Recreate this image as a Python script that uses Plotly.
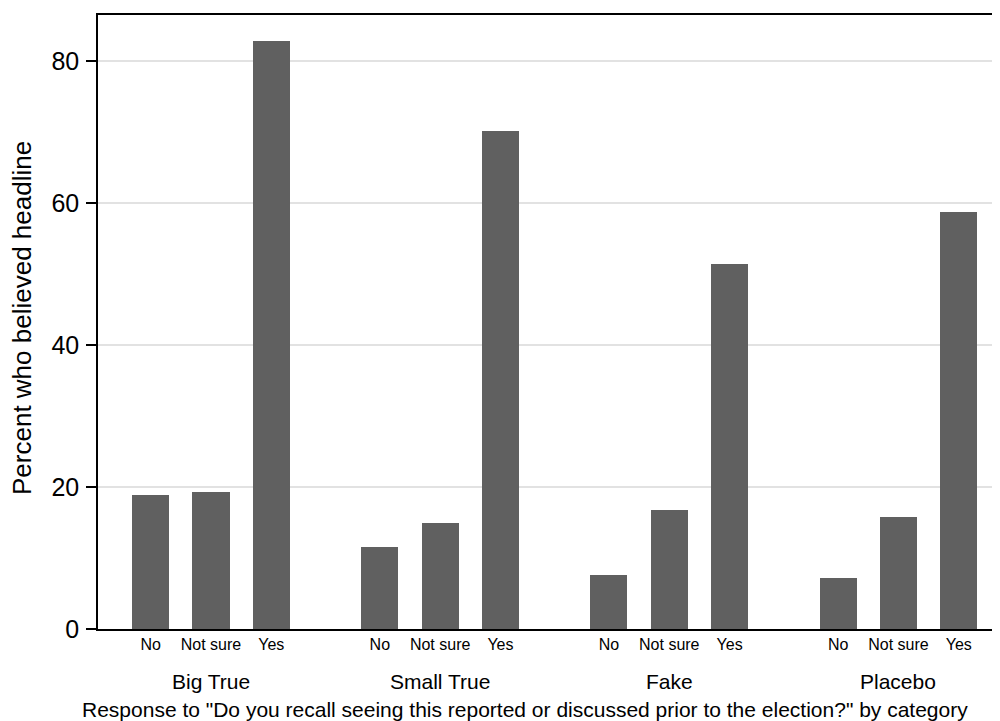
import plotly.graph_objects as go

groups = ["Big True", "Small True", "Fake", "Placebo"]
responses = ["No", "Not sure", "Yes"]
values = {
    "Big True":   [18.9, 19.3, 82.8],
    "Small True": [11.5, 14.9, 70.1],
    "Fake":       [7.6, 16.8, 51.4],
    "Placebo":    [7.2, 15.8, 58.8],
}
y_ticks = [0, 20, 40, 60, 80]
x_title = 'Response to "Do you recall seeing this reported or discussed prior to the election?" by category'
y_title = "Percent who believed headline"

GROUP_STEP = 3.8
FONT = "Liberation Sans, Arial, Helvetica, sans-serif"
BAR_COLOR = "#606060"
OFF = 8  # browser body margin

xs, ys, tvals, ttext = [], [], [], []
for gi, g in enumerate(groups):
    for ri, r in enumerate(responses):
        pos = gi * GROUP_STEP + ri
        xs.append(pos)
        ys.append(values[g][ri])
        tvals.append(pos)
        ttext.append(r)

fig = go.Figure()
fig.add_trace(go.Bar(x=xs, y=ys, width=0.614, marker=dict(color=BAR_COLOR, line=dict(width=0)),
                     showlegend=False))

annotations = []
for gi, g in enumerate(groups):
    annotations.append(dict(x=gi * GROUP_STEP + 1, xref="x", y=0, yref="paper", yshift=-52,
                            text=g, showarrow=False, xanchor="center", yanchor="middle",
                            font=dict(family=FONT, size=21, color="black")))
annotations.append(dict(x=(525 - 98) / 902, xref="paper", y=0, yref="paper", yshift=-80,
                        text=x_title, showarrow=False, xanchor="center", yanchor="middle",
                        font=dict(family=FONT, size=21, color="black")))
annotations.append(dict(x=(22 - 98) / 902, xref="paper", y=0.5, yref="paper", yshift=4,
                        text=y_title, textangle=-90, showarrow=False, xanchor="center", yanchor="middle",
                        font=dict(family=FONT, size=26, color="black")))

fig.update_layout(
    width=1000 - OFF, height=721 - OFF,
    margin=dict(l=98 - OFF, r=0, t=15 - OFF, b=92, pad=0),
    paper_bgcolor="white", plot_bgcolor="white",
    bargap=0,
    annotations=annotations,
    xaxis=dict(range=[-0.874, (1000 - 98) / 60.3 - 0.874], tickvals=tvals, ticktext=ttext,
               tickfont=dict(family=FONT, size=16, color="black"), ticks="", showgrid=False,
               showline=True, linecolor="black", linewidth=1.5, mirror=True, zeroline=False,
               fixedrange=True),
    yaxis=dict(range=[0, 86.5], tickvals=y_ticks, tickfont=dict(family=FONT, size=25, color="black"),
               ticks="outside", ticklen=10, tickwidth=1.5, tickcolor="black", ticklabelstandoff=2,
               showline=True, linecolor="black", linewidth=1.5, showgrid=True,
               gridcolor="#e2e2e2", gridwidth=1.5, zeroline=False),
)

fig.write_html("out.html")
